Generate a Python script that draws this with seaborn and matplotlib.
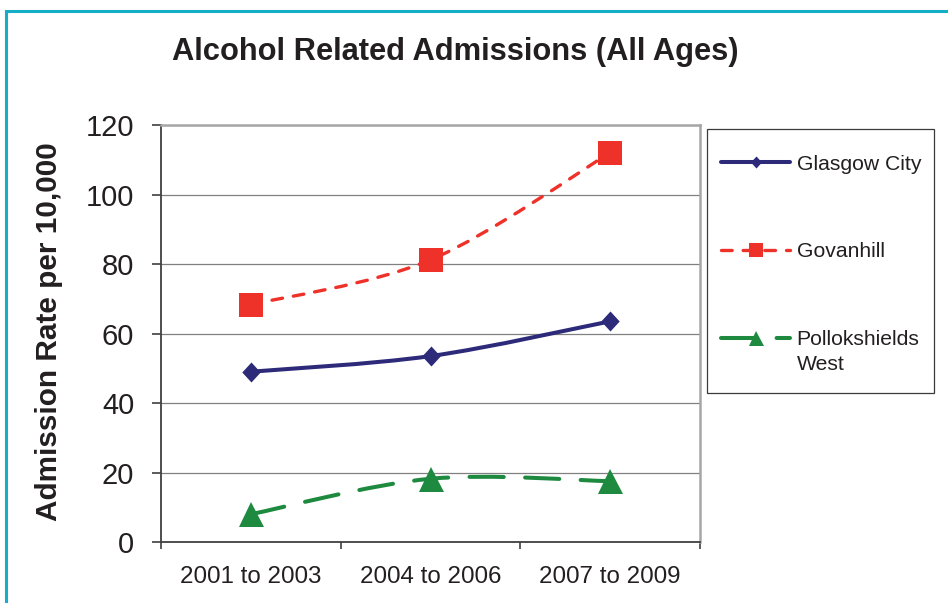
import numpy as np
import pandas as pd
import matplotlib
matplotlib.use("Agg")
import matplotlib.pyplot as plt
from matplotlib.path import Path
from matplotlib.patches import PathPatch, Rectangle
from matplotlib.lines import Line2D
import seaborn as sns

# Data
periods = ["2001 to 2003", "2004 to 2006", "2007 to 2009"]
glasgow_city = [49.0, 53.5, 63.5]
govanhill = [68.3, 81.2, 112.0]
pollokshields_west = [8.0, 18.2, 17.5]
series_names = ["Glasgow City", "Govanhill", "Pollokshields West"]
legend_labels = ["Glasgow City", "Govanhill", "Pollokshields"]
y_ticks = [0, 20, 40, 60, 80, 100, 120]

sns.set_theme(style="white")
plt.rcParams["font.family"] = ["Liberation Sans", "DejaVu Sans"]
TEXT = "#231f20"

W, H = 948, 603
fig = plt.figure(figsize=(W / 100, H / 100), dpi=100)
fig.patch.set_facecolor("white")
ax = fig.add_axes([161 / W, 1 - 542 / H, (700 - 161) / W, (542 - 125) / H])

df = pd.DataFrame({
    "period": np.tile(np.arange(len(periods)), 3),
    "value": glasgow_city + govanhill + pollokshields_west,
    "area": np.repeat(series_names, len(periods)),
})

diamond = Path([(0, 1), (0.92, 0), (0, -1), (-0.92, 0), (0, 1)],
               [Path.MOVETO, Path.LINETO, Path.LINETO, Path.LINETO, Path.CLOSEPOLY])

styles = {
    "Glasgow City": dict(color="#2d2a7a", lw=2.9, dash=None, marker=diamond, ms=14.4),
    "Govanhill": dict(color="#ee3129", lw=2.4, dash=(3.2, 3.3), marker="s", ms=17.3),
    "Pollokshields West": dict(color="#1e8a3f", lw=2.9, dash=(8.5, 5.3), marker="^", ms=18.0),
}


def smooth_path(xs, ys):
    """Bezier path through the points (Catmull-Rom style smoothing)."""
    pts = np.column_stack([xs, ys]).astype(float)
    n = len(pts)
    verts = [pts[0]]
    codes = [Path.MOVETO]
    for i in range(n - 1):
        p0 = pts[max(i - 1, 0)]
        p1 = pts[i]
        p2 = pts[i + 1]
        p3 = pts[min(i + 2, n - 1)]
        verts += [p1 + (p2 - p0) / 6.0, p2 - (p3 - p1) / 6.0, p2]
        codes += [Path.CURVE4] * 3
    return Path(verts, codes)


handles = []
for name in series_names:
    st = styles[name]
    sub = df[df["area"] == name]
    ls = "-" if st["dash"] is None else (0, st["dash"])
    patch = PathPatch(smooth_path(sub["period"], sub["value"]), fill=False,
                      edgecolor=st["color"], lw=st["lw"], linestyle=ls,
                      capstyle="round", joinstyle="round", zorder=3)
    ax.add_patch(patch)
    sns.lineplot(data=sub, x="period", y="value", ax=ax, color=st["color"],
                 linestyle="none", marker=st["marker"], markersize=st["ms"],
                 markeredgewidth=0, legend=False, zorder=4)
    handles.append(Line2D([], [], color=st["color"], lw=st["lw"], linestyle=ls,
                          dash_capstyle="round", marker=st["marker"],
                          markersize=st["ms"] * 0.6, markeredgewidth=0))

# Axes styling
ax.set_xlim(-0.5, 2.5)
ax.set_ylim(0, 120)
ax.set_xticks([-0.5, 0.5, 1.5, 2.5])
ax.set_xticklabels([])
ax.set_xticks(range(len(periods)), minor=True)
ax.set_xticklabels(periods, minor=True)
ax.tick_params(axis="x", which="major", bottom=True, length=5, width=1.2,
               color="#404040", direction="out")
ax.tick_params(axis="x", which="minor", bottom=True, length=0, pad=17,
               labelsize=17.4, labelcolor=TEXT)
ax.set_yticks(y_ticks)
ax.tick_params(axis="y", which="major", left=True, length=6.6, width=1.2,
               color="#404040", direction="out", pad=12.7, labelsize=21,
               labelcolor=TEXT)
ax.yaxis.grid(True, color="#808080", lw=0.9)
ax.xaxis.grid(False)
ax.set_axisbelow(True)
for side in ("left", "bottom"):
    ax.spines[side].set_color("#404040")
    ax.spines[side].set_linewidth(1.3)
for side in ("top", "right"):
    ax.spines[side].set_color("#a6a6a6")
    ax.spines[side].set_linewidth(1.8)

ax.set_xlabel("")
ax.set_ylabel("Admission Rate per 10,000", fontsize=21.4, fontweight="bold",
              color=TEXT)
ax.yaxis.label.set_va("center")
ax.yaxis.label.set_ha("center")
ax.yaxis.set_label_coords((49 - 161) / (700 - 161), (542 - 332) / (542 - 125))

fig.text(455 / W, 1 - 60 / H, "Alcohol Related Admissions (All Ages)",
         ha="center", va="baseline", fontsize=22.2, fontweight="bold", color=TEXT)

# Legend
leg = fig.legend(handles, legend_labels, loc="upper left",
                 bbox_to_anchor=(720.7 / W, 1 - 154.5 / H), frameon=False,
                 fontsize=15.2, handlelength=3.3, handletextpad=0.3,
                 labelspacing=3.26, borderpad=0, borderaxespad=0,
                 labelcolor=TEXT)
fig.canvas.draw()
last = leg.get_texts()[-1].get_window_extent()
x_text, y_mid = fig.transFigure.inverted().transform((last.x0, (last.y0 + last.y1) / 2))
fig.text(x_text, y_mid - 25 / H, "West", ha="left", va="center",
         fontsize=15.2, color=TEXT)

fig.patches.append(Rectangle((706.5 / W, 1 - 392.5 / H), (934 - 706.5) / W,
                             (392.5 - 128.5) / H, transform=fig.transFigure,
                             fill=False, edgecolor="#3a3a3a", lw=0.9))
# Outer frame
fig.patches.append(Rectangle((5.5 / W, -0.1), 2.0, 1 - 11 / H + 0.1,
                             transform=fig.transFigure, fill=False,
                             edgecolor="#14aec6", lw=2.2))

fig.savefig("out.png", dpi=100, facecolor="white")
